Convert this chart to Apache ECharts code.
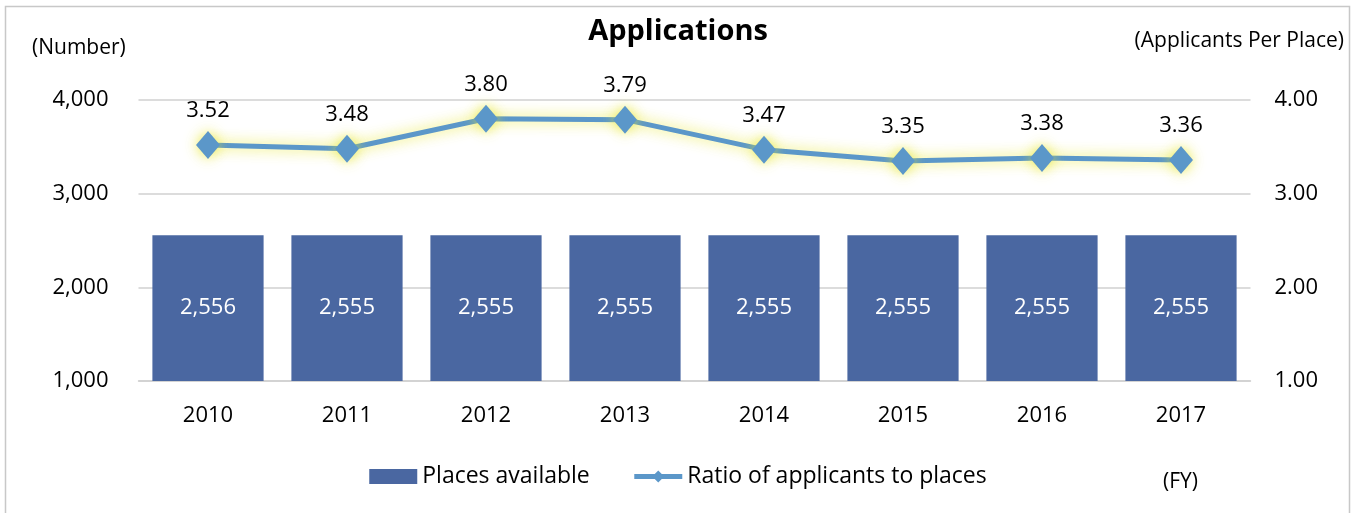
<!DOCTYPE html>
<html>
<head>
<meta charset="utf-8">
<script src="https://cdn.jsdelivr.net/npm/echarts@6/dist/echarts.min.js"></script>
<style>
  html, body { margin: 0; padding: 0; background: #fff; }
  #chart { width: 1356px; height: 513px; }
</style>
</head>
<body>
<div id="chart"></div>
<script>
var years = ['2010', '2011', '2012', '2013', '2014', '2015', '2016', '2017'];
var places = [2556, 2555, 2555, 2555, 2555, 2555, 2555, 2555];
var ratio = [3.52, 3.48, 3.80, 3.79, 3.47, 3.35, 3.38, 3.36];

var font = '"Open Sans", "Liberation Sans", sans-serif';

var myChart = echarts.init(document.getElementById('chart'));
var option = {
    textStyle: { fontFamily: font },
    graphic: [
        {
            type: 'rect',
            shape: { x: 5.5, y: 6.5, width: 1344, height: 520 },
            style: { fill: 'none', stroke: '#c8c8c8', lineWidth: 1.5 },
            silent: true
        },
        {
            type: 'text', left: 32, top: 38,
            style: { text: '(Number)', font: '21px ' + font, fill: '#000' }
        },
        {
            type: 'text', right: 12, top: 31,
            style: { text: '(Applicants Per Place)', font: '21px ' + font, fill: '#000' }
        },
        {
            type: 'text', left: 1163, top: 472,
            style: { text: '(FY)', font: '21px ' + font, fill: '#000' }
        }
    ],
    title: {
        text: 'Applications',
        left: 'center',
        top: 12,
        textStyle: { fontFamily: font, fontSize: 29, fontWeight: 'bold', color: '#000' }
    },
    legend: {
        bottom: 20,
        left: 'center',
        itemGap: 42,
        itemWidth: 48,
        itemHeight: 15,
        textStyle: { fontFamily: font, fontSize: 23, color: '#000' },
        data: [
            { name: 'Places available', icon: 'rect' },
            {
                name: 'Ratio of applicants to places',
                lineStyle: { width: 5, color: '#5b97c9' },
                itemStyle: { color: '#5b97c9' }
            }
        ]
    },
    grid: {
        left: 138.5,
        right: 105.5,
        top: 100,
        bottom: 132
    },
    xAxis: {
        type: 'category',
        data: years,
        axisLine: { lineStyle: { color: '#d0d0d0', width: 1.5 } },
        axisTick: { show: false },
        axisLabel: { color: '#000', fontSize: 22, margin: 24, fontFamily: font }
    },
    yAxis: [
        {
            type: 'value',
            min: 1000,
            max: 4000,
            interval: 1000,
            axisLine: { show: false },
            axisTick: { show: false },
            splitLine: { lineStyle: { color: '#d0d0d0', width: 1.5 } },
            axisLabel: {
                color: '#000', fontSize: 22, margin: 30, fontFamily: font,
                formatter: function (v) { return v.toLocaleString('en-US'); }
            }
        },
        {
            type: 'value',
            min: 1,
            max: 4,
            interval: 1,
            axisLine: { show: false },
            axisTick: { show: false },
            splitLine: { show: false },
            axisLabel: {
                color: '#000', fontSize: 22, margin: 24, fontFamily: font,
                formatter: function (v) { return v.toFixed(2); }
            }
        }
    ],
    series: [
        {
            name: 'Places available',
            type: 'bar',
            barCategoryGap: '20%',
            itemStyle: { color: '#4a67a1' },
            label: {
                show: true,
                position: 'inside',
                color: '#fff',
                fontSize: 22,
                fontFamily: font,
                formatter: function (p) { return p.value.toLocaleString('en-US'); }
            },
            data: places
        },
        {
            name: 'Ratio of applicants to places',
            type: 'line',
            yAxisIndex: 1,
            symbol: 'diamond',
            symbolSize: [24, 28],
            itemStyle: {
                color: '#5b97c9',
                shadowColor: 'rgba(230, 230, 40, 0.85)',
                shadowBlur: 14
            },
            lineStyle: {
                color: '#5b97c9',
                width: 5,
                shadowColor: 'rgba(230, 230, 40, 0.85)',
                shadowBlur: 14
            },
            label: {
                show: true,
                position: 'top',
                distance: 9,
                color: '#000',
                fontSize: 22,
                fontFamily: font,
                formatter: function (p) { return p.value.toFixed(2); }
            },
            z: 5,
            data: ratio
        }
    ]
};
myChart.setOption(option);
</script>
</body>
</html>
